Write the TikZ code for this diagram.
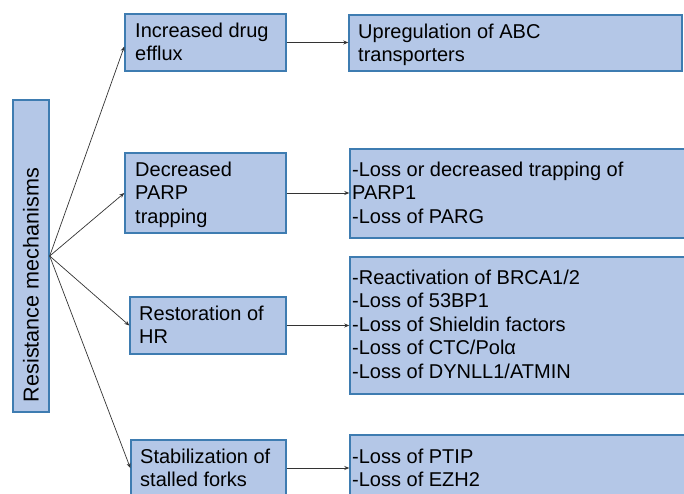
\documentclass[tikz,border=0pt]{standalone}
\usepackage{fontspec}
\setmainfont{Liberation Sans}
\usetikzlibrary{arrows.meta,calc}
\definecolor{boxfill}{HTML}{B4C7E7}
\definecolor{boxline}{HTML}{3E7CB1}
\definecolor{arrowc}{HTML}{333333}
\begin{document}
\begin{tikzpicture}[x=1pt,y=-1pt,
  box/.style={draw=boxline,fill=boxfill,line width=1.4pt,inner sep=0pt},
  lbl/.style={anchor=base west,inner sep=0pt,align=left,font=\fontsize{20}{23.5}\selectfont},
  conn/.style={draw=arrowc,line width=0.7pt,-{Stealth[length=5pt,width=4pt]}}]
\useasboundingbox (0,0) rectangle (684,493);
\clip (0,0) rectangle (684,493);
% left box
\node[box,minimum width=36pt,minimum height=312pt] (rm) at (31,256) {};
\node[rotate=90,inner sep=0pt,font=\fontsize{21.6}{25}\selectfont] (rmt) at (31,285) {Resistance mechanisms};
% middle boxes
\node[box,minimum width=161pt,minimum height=57pt] (b1) at (205.5,42.5) {};
\node[box,minimum width=161pt,minimum height=80pt] (b2) at (205.5,193) {};
\node[box,minimum width=156pt,minimum height=57pt] (b3) at (208,325.5) {};
\node[box,minimum width=155pt,minimum height=56pt] (b4) at (208.5,468) {};
% right boxes
\node[box,minimum width=333pt,minimum height=56pt] (r1) at (515.5,43) {};
\node[box,minimum width=360pt,minimum height=89pt] (r2) at (530,193.5) {};
\node[box,minimum width=360pt,minimum height=137pt] (r3) at (530,325.5) {};
\node[box,minimum width=360pt,minimum height=66pt] (r4) at (530,468) {};
% texts (anchored at the baseline of their last line)
\node[lbl] (t1) at (135,60.5) {Increased drug\\efflux};
\node[lbl] (t2) at (135,223) {Decreased\\PARP\\trapping};
\node[lbl] (t3) at (139,343.5) {Restoration of\\HR};
\node[lbl] (t4) at (140,486.5) {Stabilization of\\stalled forks};
\node[lbl] (u1) at (358,61.5) {Upregulation of ABC\\transporters};
\node[lbl] (u2) at (352,223) {-Loss or decreased trapping of\\PARP1\\-Loss of PARG};
\node[lbl] (u3) at (352,378) {-Reactivation of BRCA1/2\\-Loss of 53BP1\\-Loss of Shieldin factors\\-Loss of CTC/Pol\symbol{"03B1}\\-Loss of DYNLL1/ATMIN};
\node[lbl] (u4) at (352,486.5) {-Loss of PTIP\\-Loss of EZH2};
% connectors
\coordinate (o) at (rm.east);
\draw[conn] (o) -- ($(b1.west)+(0,4)$);
\draw[conn] (o) -- (b2.west);
\draw[conn] (o) -- (b3.west);
\draw[conn] (o) -- (b4.west);
\draw[conn] (b1.east) -- (r1.west |- b1.east);
\draw[conn] (b2.east) -- (r2.west |- b2.east);
\draw[conn] (b3.east) -- (r3.west |- b3.east);
\draw[conn] (b4.east) -- (r4.west |- b4.east);
\end{tikzpicture}
\end{document}
